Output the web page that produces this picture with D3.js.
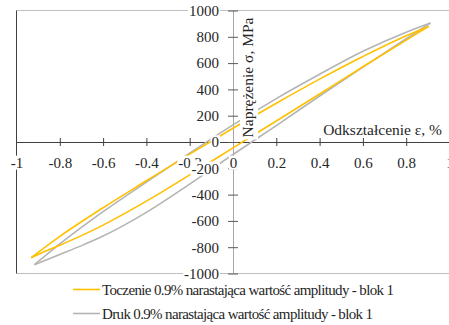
<!DOCTYPE html>
<html>
<head>
<meta charset="utf-8">
<script src="https://cdn.jsdelivr.net/npm/d3@7"></script>
<style>
  html, body { margin: 0; padding: 0; background: #fff; }
  svg { display: block; }
</style>
</head>
<body>
<svg id="chart" width="449" height="325"></svg>
<script>
// Strain (%) and stress (MPa) along each loop branch
const seriesNames = [
  "Toczenie 0.9% narastająca wartość amplitudy - blok 1",
  "Druk 0.9% narastająca wartość amplitudy - blok 1"
];
const seriesColors = ["#FFC000", "#B4B4B4"];

// Toczenie: loading branch (compression peak -> tension peak)
const toczLoadStrain = [-0.932, -0.8, -0.6, -0.4, -0.2, 0, 0.2, 0.4, 0.6, 0.8, 0.904];
const toczLoadStress = [-880, -718, -500, -295, -92, 105, 295, 478, 650, 808, 879];
// Toczenie: unloading branch (tension peak -> compression peak)
const toczUnloadStrain = [0.904, 0.8, 0.6, 0.4, 0.2, 0, -0.2, -0.4, -0.6, -0.7, -0.8, -0.88, -0.932];
const toczUnloadStress = [879, 775, 572, 365, 160, -45, -250, -450, -632, -712, -785, -840, -880];

// Druk: loading branch
const drukLoadStrain = [-0.917, -0.8, -0.6, -0.4, -0.2, 0, 0.2, 0.4, 0.6, 0.8, 0.912];
const drukLoadStress = [-933, -775, -530, -305, -85, 130, 330, 515, 690, 835, 905];
// Druk: unloading branch
const drukUnloadStrain = [0.912, 0.8, 0.6, 0.4, 0.2, 0, -0.2, -0.4, -0.6, -0.7, -0.8, -0.917];
const drukUnloadStress = [905, 785, 570, 350, 125, -95, -320, -535, -715, -788, -855, -933];

const xTicks = [-1, -0.8, -0.6, -0.4, -0.2, 0, 0.2, 0.4, 0.6, 0.8, 1];
const yTicks = [-1000, -800, -600, -400, -200, 0, 200, 400, 600, 800, 1000];
const xTitle = "Odkształcenie ε, %";
const yTitle = "Naprężenie σ, MPa";

const FONT = "Liberation Serif";
const TEXT_COLOR = "#262626";
const fmt = d => String(d);

const svg = d3.select("#chart");
const x = d3.scaleLinear().domain([-1, 1]).range([16.5, 449.5]);
const y = d3.scaleLinear().domain([-1000, 1000]).range([273.5, 10.5]);
const x0 = x(0), y0 = y(0);

// Plot area frame
const frame = svg.append("g");
frame.append("line").attr("x1", x(-1)).attr("x2", x(1)).attr("y1", y(1000)).attr("y2", y(1000))
  .attr("stroke", "#BFBFBF").attr("stroke-width", 1);
frame.append("line").attr("x1", x(-1)).attr("x2", x(1)).attr("y1", y(-1000)).attr("y2", y(-1000))
  .attr("stroke", "#BFBFBF").attr("stroke-width", 1);
frame.append("line").attr("x1", x(-1)).attr("x2", x(-1)).attr("y1", y(1000)).attr("y2", y(-1000))
  .attr("stroke", "#404040").attr("stroke-width", 1);

// Axis lines and cross ticks (labels drawn later, on top of the data)
const xAxisLines = svg.append("g").attr("transform", `translate(0,${y0})`)
  .call(d3.axisBottom(x).tickValues(xTicks.filter(v => v !== -1)).tickFormat("").tickSizeOuter(0));
xAxisLines.select(".domain").attr("stroke", "#404040");
xAxisLines.selectAll(".tick line").attr("y1", -4).attr("y2", 4).attr("stroke", "#404040");

const yAxisLines = svg.append("g").attr("transform", `translate(${x0},0)`)
  .call(d3.axisLeft(y).tickValues(yTicks).tickFormat("").tickSizeOuter(0));
yAxisLines.select(".domain").attr("stroke", "#A6A6A6");
yAxisLines.selectAll(".tick line").attr("x1", -5).attr("x2", 5).attr("stroke", "#595959");

// Hysteresis loops
const line = d3.line().x(d => x(d[0])).y(d => y(d[1])).curve(d3.curveMonotoneX);
const asc = pts => pts.slice().sort((a, b) => a[0] - b[0]);
const loops = [
  { color: seriesColors[1], load: d3.zip(drukLoadStrain, drukLoadStress), unload: d3.zip(drukUnloadStrain, drukUnloadStress) },
  { color: seriesColors[0], load: d3.zip(toczLoadStrain, toczLoadStress), unload: d3.zip(toczUnloadStrain, toczUnloadStress) }
];
const series = svg.append("g").attr("fill", "none");
loops.forEach(l => {
  series.append("path").attr("d", line(asc(l.load))).attr("stroke", l.color).attr("stroke-width", 1.6);
  series.append("path").attr("d", line(asc(l.unload))).attr("stroke", l.color).attr("stroke-width", 1.6);
});

// Put a white box behind a text node
function backfill(sel, pad) {
  sel.each(function () {
    const b = this.getBBox();
    d3.select(this.parentNode).insert("rect", () => this)
      .attr("x", b.x - pad).attr("y", b.y + 1).attr("width", b.width + 2 * pad).attr("height", b.height - 2)
      .attr("fill", "#fff");
  });
}
function styleText(sel, size) {
  sel.style("font-family", FONT).style("font-size", size + "px").style("fill", TEXT_COLOR);
}

// Tick labels
const xLabels = svg.append("g").attr("transform", `translate(0,${y0})`)
  .call(d3.axisBottom(x).tickValues(xTicks).tickFormat(fmt).tickSize(0).tickPadding(15));
xLabels.select(".domain").remove();
styleText(xLabels.selectAll("text"), 15);
backfill(xLabels.selectAll("text"), 1);

const yLabels = svg.append("g").attr("transform", `translate(${x0},0)`)
  .call(d3.axisLeft(y).tickValues(yTicks).tickFormat(fmt).tickSize(0).tickPadding(14));
yLabels.select(".domain").remove();
styleText(yLabels.selectAll("text"), 15);
backfill(yLabels.selectAll("text"), 1);

// Axis titles
const titles = svg.append("g");
const xt = titles.append("text").attr("x", 442).attr("y", 135).attr("text-anchor", "end").text(xTitle);
styleText(xt, 15.5);
backfill(xt, 2);
const yt = titles.append("text").attr("transform", `translate(253,77.5) rotate(-90)`)
  .attr("text-anchor", "middle").text(yTitle);
styleText(yt, 15.5);
yt.each(function () {
  const b = this.getBBox();
  titles.insert("rect", () => this)
    .attr("transform", `translate(253,77.5) rotate(-90)`)
    .attr("x", b.x - 2).attr("y", b.y + 1).attr("width", b.width + 4).attr("height", b.height + 1)
    .attr("fill", "#fff");
});

// Legend (entries set tightly, as in the original layout)
const legendWidths = [292, 271];
const legend = svg.append("g");
seriesNames.forEach((name, i) => {
  const ly = 289.5 + i * 24;
  legend.append("line").attr("x1", 73).attr("x2", 100).attr("y1", ly).attr("y2", ly)
    .attr("stroke", seriesColors[i]).attr("stroke-width", 1.6);
  const t = legend.append("text").attr("x", 102).attr("y", ly).attr("dy", "0.35em").text(name);
  styleText(t, 15);
  t.attr("textLength", legendWidths[i]).attr("lengthAdjust", "spacing");
});
</script>
</body>
</html>
